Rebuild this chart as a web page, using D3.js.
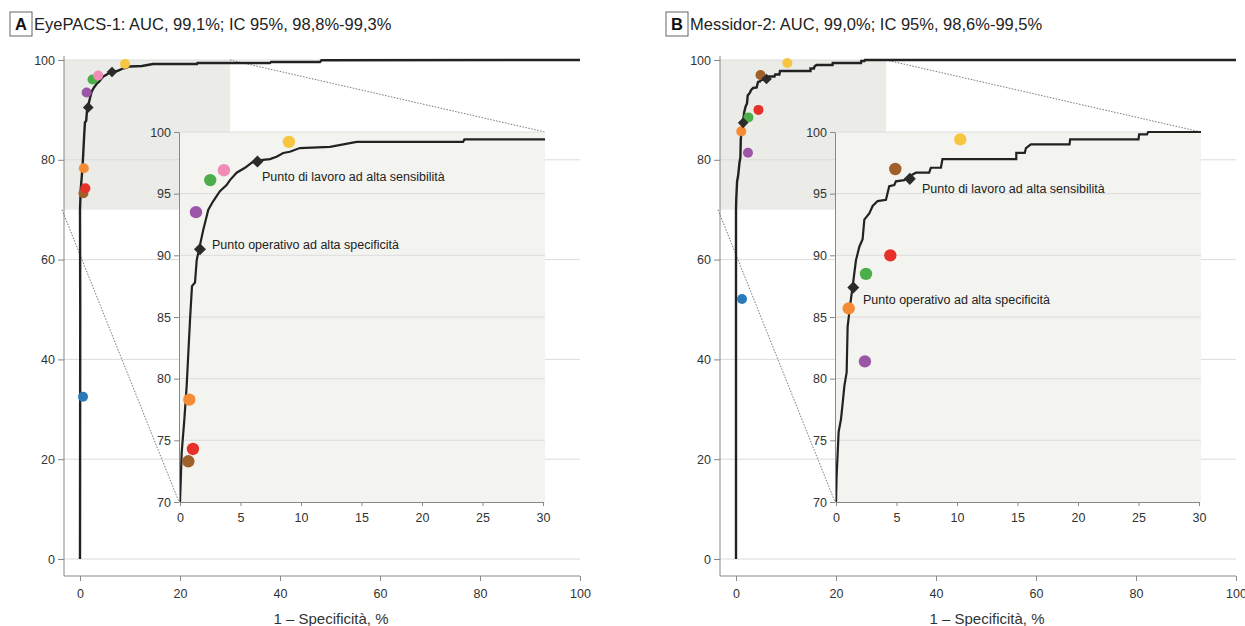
<!DOCTYPE html>
<html>
<head>
<meta charset="utf-8">
<script src="https://cdn.jsdelivr.net/npm/d3@7"></script>
<style>
  body { margin: 0; background: #fff; }
  svg text { font-family: "Liberation Sans", Arial, sans-serif; fill: #333; }
</style>
</head>
<body>
<svg id="chart" width="1245" height="626"></svg>
<script>
// ROC curves: [1 - specificity %, sensitivity %]
const rocA = [
  [0, 0], [0.05, 50], [0, 70], [0.14, 74], [0.36, 76.7], [0.55, 79.4], [0.69, 82.1], [0.83, 84.8],
  [0.99, 87.5], [1.24, 87.8], [1.38, 89.6], [1.51, 90.2], [1.93, 92.1], [2.34, 93.7],
  [2.75, 94.4], [3.3, 95.2], [3.85, 95.7], [4.13, 96.1], [4.68, 96.7], [5.37, 97.1],
  [5.92, 97.5], [6.47, 97.7], [7.43, 97.8], [7.98, 98.0], [8.53, 98.3], [9.08, 98.4],
  [9.91, 98.7], [12.4, 98.8], [13.5, 99.0], [14.6, 99.2], [23.4, 99.2], [23.5, 99.4],
  [38, 99.4], [38.2, 99.6], [48, 99.6], [48.3, 99.95], [100, 100]
];
const rocB = [
  [0, 0], [0, 70], [0.05, 72.1], [0.14, 74], [0.22, 75.7], [0.41, 76.7], [0.55, 78], [0.69, 79.4],
  [0.88, 80.5], [0.96, 84.2], [1.16, 85.9], [1.38, 87.5], [1.65, 89.6], [1.93, 90.7],
  [2.2, 91.3], [2.34, 92.9], [2.75, 93.4], [3.03, 94.0], [3.44, 94.4], [4.13, 94.5],
  [4.4, 95.6], [4.82, 95.7], [4.95, 96.0], [5.64, 96.1], [6.06, 96.4], [6.6, 96.7],
  [7.7, 96.7], [7.84, 97.1], [8.67, 97.1], [8.8, 97.8], [14.9, 97.8], [14.9, 98.3],
  [15.6, 98.3], [15.7, 98.7], [16.1, 99.0], [19.3, 99.0], [19.35, 99.4], [25, 99.4],
  [25.05, 99.8], [25.7, 99.8], [25.8, 100], [100, 100]
];

// graders' operating points
const gradersA = [
  { c: "#2a7ab9", x: 0.6, y: 32.5 },
  { c: "#a0602c", x: 0.69, y: 73.3 },
  { c: "#e8302b", x: 1.07, y: 74.3 },
  { c: "#f58b34", x: 0.77, y: 78.3 },
  { c: "#9b56a8", x: 1.32, y: 93.5 },
  { c: "#4cae4a", x: 2.5, y: 96.1 },
  { c: "#f08cb6", x: 3.63, y: 96.9 },
  { c: "#f6c640", x: 9.0, y: 99.2 }
];
const gradersB = [
  { c: "#2a7ab9", x: 1.2, y: 52.1 },
  { c: "#9b56a8", x: 2.39, y: 81.4 },
  { c: "#f58b34", x: 1.05, y: 85.7 },
  { c: "#4cae4a", x: 2.48, y: 88.5 },
  { c: "#e8302b", x: 4.49, y: 90.0 },
  { c: "#a0602c", x: 4.9, y: 97.0 },
  { c: "#f6c640", x: 10.27, y: 99.4 }
];

// algorithm operating points: high specificity, high sensitivity
const opPointsA = [[1.65, 90.5], [6.4, 97.6]];
const opPointsB = [[1.43, 87.4], [6.1, 96.2]];
const opLabels = ["Punto operativo ad alta specificità", "Punto di lavoro ad alta sensibilità"];

const titles = ["EyePACS-1: AUC, 99,1%; IC 95%, 98,8%-99,3%", "Messidor-2: AUC, 99,0%; IC 95%, 98,6%-99,5%"];
const panelLetters = ["A", "B"];
const mainTicks = [0, 20, 40, 60, 80, 100];
const insetXTicks = [0, 5, 10, 15, 20, 25, 30];
const insetYTicks = [70, 75, 80, 85, 90, 95, 100];
const xLabel = "1 – Specificità, %";

const svg = d3.select("#chart");

// diamond = square turned 45 degrees
function diamond(s) {
  return d3.symbol(d3.symbolSquare, s * s)();
}

function drawPanel(ox, roc, graders, ops, title, letter, labelPos) {
  const g = svg.append("g").attr("transform", `translate(${ox},0)`);

  // title with boxed letter
  g.append("rect").attr("x", 10).attr("y", 12).attr("width", 22).attr("height", 24)
    .attr("fill", "none").attr("stroke", "#666").attr("stroke-width", 1);
  g.append("text").attr("x", 21).attr("y", 30).attr("text-anchor", "middle")
    .style("font-size", "16.5px").style("font-weight", "bold").style("fill", "#111").text(letter);
  g.append("text").attr("x", 34).attr("y", 30)
    .style("font-size", "16.5px").style("fill", "#222").text(title);

  // main scales
  const x = d3.scaleLinear().domain([0, 100]).range([80, 580]);
  const y = d3.scaleLinear().domain([0, 100]).range([559, 60]);
  const axisX0 = 64, axisY0 = 576;

  // shaded zoom region
  g.append("rect").attr("x", axisX0).attr("y", y(100))
    .attr("width", x(30) - axisX0).attr("height", y(70) - y(100))
    .attr("fill", "#ebebe7");

  // gridlines
  g.append("g").selectAll("line").data(mainTicks).join("line")
    .attr("x1", axisX0).attr("x2", 580)
    .attr("y1", d => y(d)).attr("y2", d => y(d))
    .attr("stroke", "#dcdcdc").attr("stroke-width", 1);

  // axes
  const ax = g.append("g").attr("transform", `translate(0,${axisY0})`)
    .call(d3.axisBottom(x).tickValues(mainTicks).tickSize(5).tickSizeOuter(0));
  ax.select(".domain").attr("d", `M${axisX0},0H580`);
  const ay = g.append("g").attr("transform", `translate(${axisX0},0)`)
    .call(d3.axisLeft(y).tickValues(mainTicks).tickSize(6).tickSizeOuter(0));
  ay.select(".domain").attr("d", `M0,${y(100) - 4}V${axisY0}`);
  [ax, ay].forEach(a => {
    a.selectAll(".domain, .tick line").attr("stroke", "#888");
    a.selectAll("text").style("font-size", "12.5px").style("fill", "#333");
  });
  ax.selectAll("text").attr("dy", "1.1em");

  g.append("text").attr("x", 331).attr("y", 624).attr("text-anchor", "middle")
    .style("font-size", "15px").text(xLabel);

  // inset scales
  const ix = d3.scaleLinear().domain([0, 30]).range([180, 543]);
  const iy = d3.scaleLinear().domain([70, 100]).range([502, 132]);

  // dotted connectors
  g.append("line").attr("x1", x(30)).attr("y1", y(100)).attr("x2", 545).attr("y2", iy(100))
    .attr("stroke", "#777").attr("stroke-dasharray", "1.5,1.5");
  g.append("line").attr("x1", axisX0 - 2).attr("y1", y(70)).attr("x2", ix(0) - 1).attr("y2", iy(70))
    .attr("stroke", "#777").attr("stroke-dasharray", "1.5,1.5");

  // main curve
  const line = d3.line().x(d => x(d[0])).y(d => y(d[1]));
  g.append("path").datum(roc).attr("d", line)
    .attr("fill", "none").attr("stroke", "#222").attr("stroke-width", 2.4);

  g.append("g").selectAll("circle").data(graders).join("circle")
    .attr("cx", d => x(d.x)).attr("cy", d => y(d.y)).attr("r", 5).attr("fill", d => d.c);
  g.append("g").selectAll("path").data(ops).join("path")
    .attr("transform", d => `translate(${x(d[0])},${y(d[1])}) rotate(45)`)
    .attr("d", diamond(7.5)).attr("fill", "#2b2b2b");

  // inset
  const inset = g.append("g");
  inset.append("rect").attr("x", ix(0)).attr("y", iy(100))
    .attr("width", 545 - ix(0)).attr("height", iy(70) - iy(100)).attr("fill", "#f3f3ef");
  inset.append("g").selectAll("line").data(insetYTicks.slice(1)).join("line")
    .attr("x1", ix(0)).attr("x2", 545).attr("y1", d => iy(d)).attr("y2", d => iy(d))
    .attr("stroke", "#dcdcdc");

  const iax = inset.append("g").attr("transform", `translate(0,${iy(70)})`)
    .call(d3.axisBottom(ix).tickValues(insetXTicks).tickSize(4).tickSizeOuter(0));
  const iay = inset.append("g").attr("transform", `translate(${ix(0) - 1},0)`)
    .call(d3.axisLeft(iy).tickValues(insetYTicks).tickSize(5).tickSizeOuter(0));
  [iax, iay].forEach(a => {
    a.selectAll(".domain, .tick line").attr("stroke", "#888");
    a.selectAll("text").style("font-size", "12.5px").style("fill", "#333");
  });
  iax.selectAll("text").attr("dy", "1.0em");

  const clipId = "clip" + letter;
  inset.append("clipPath").attr("id", clipId).append("rect")
    .attr("x", ix(0)).attr("y", iy(100) - 3).attr("width", 545 - ix(0)).attr("height", iy(70) - iy(100) + 3);
  const iline = d3.line().x(d => ix(d[0])).y(d => iy(d[1]));
  inset.append("path").datum(roc.filter(d => d[1] >= 70 || d[0] > 0)).attr("d", iline)
    .attr("clip-path", `url(#${clipId})`)
    .attr("fill", "none").attr("stroke", "#222").attr("stroke-width", 2.2);

  inset.append("g").selectAll("circle").data(graders.filter(d => d.y >= 70)).join("circle")
    .attr("cx", d => ix(d.x)).attr("cy", d => iy(d.y)).attr("r", 6.2).attr("fill", d => d.c);
  inset.append("g").selectAll("path").data(ops).join("path")
    .attr("transform", d => `translate(${ix(d[0])},${iy(d[1])}) rotate(45)`)
    .attr("d", diamond(8.5)).attr("fill", "#2b2b2b");

  inset.append("g").selectAll("text").data(opLabels).join("text")
    .attr("x", (d, i) => labelPos[i][0]).attr("y", (d, i) => labelPos[i][1])
    .style("font-size", "12.5px").style("fill", "#222").text(d => d);
}

drawPanel(0, rocA, gradersA, opPointsA, titles[0], panelLetters[0], [[212, 249], [262, 181]]);
drawPanel(656, rocB, gradersB, opPointsB, titles[1], panelLetters[1], [[863 - 656, 304], [922 - 656, 193]]);
</script>
</body>
</html>
